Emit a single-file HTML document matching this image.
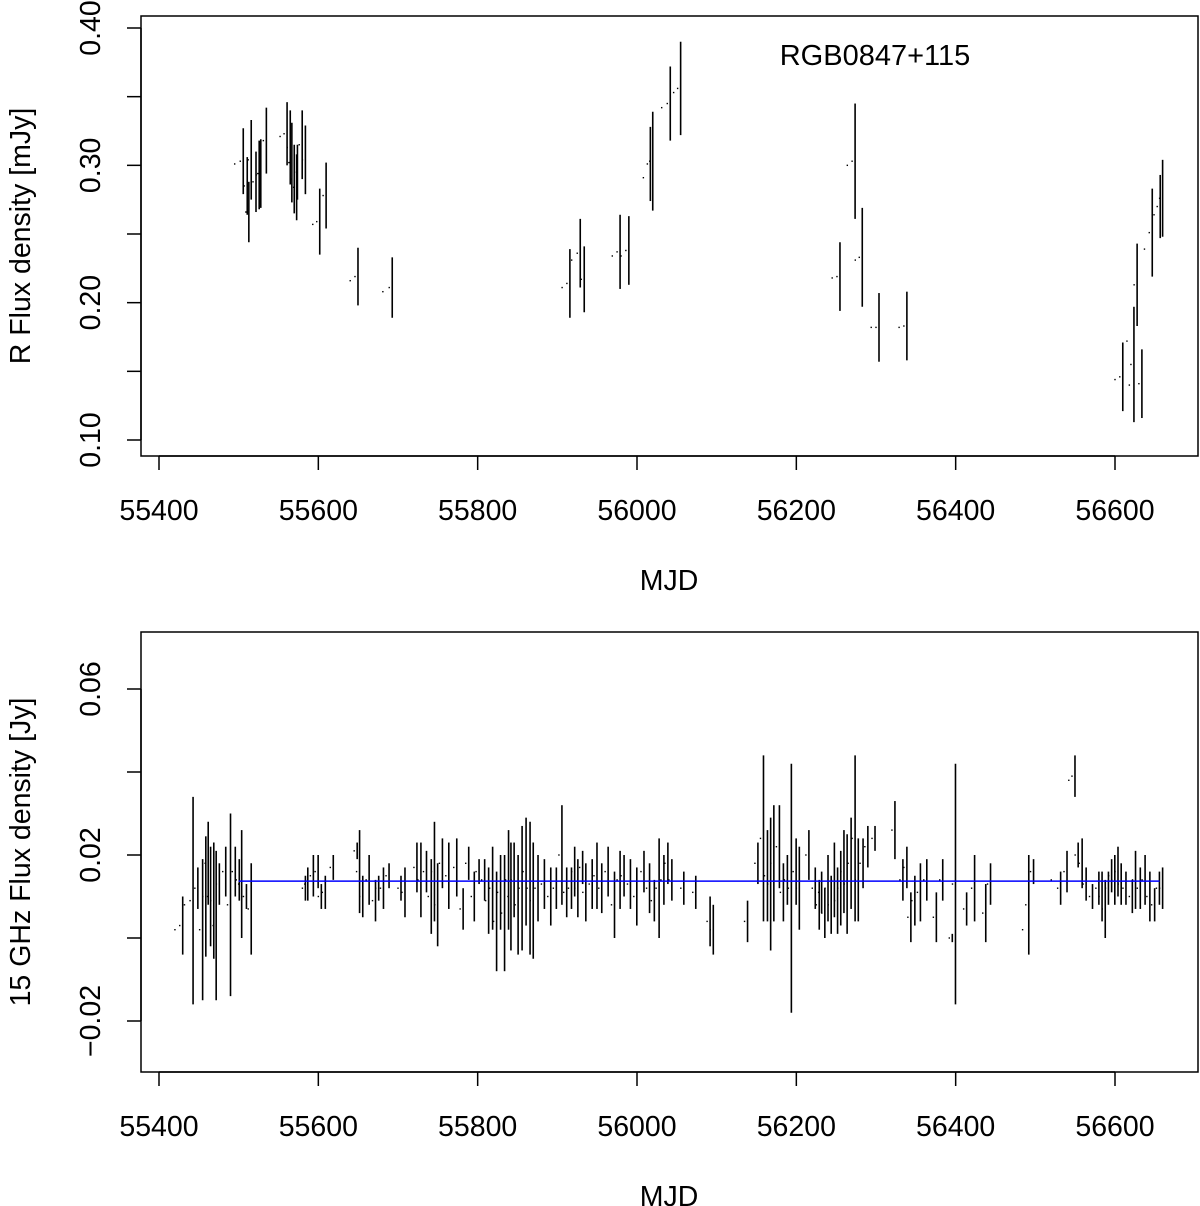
<!DOCTYPE html>
<html><head><meta charset="utf-8"><style>
body{margin:0;background:#fff}
svg{display:block;font-family:"Liberation Sans",Arial,sans-serif}
</style></head><body>
<svg id="chart" width="1200" height="1206" viewBox="0 0 1200 1206" xmlns="http://www.w3.org/2000/svg"></svg>
<script>
// Top panel data (R band)
const mjdR=[55495,55502,55507,55509,55512,55518,55522,55524,55531,55552,55557,55561,55563,55566,55569,55570,55576,55580,55593,55598,55606,55640,55646,55681,55689,55906,55912,55918,55925,55930,55969,55975,55980,55986,56008,56013,56016,56031,56038,56046,56051,56245,56251,56264,56270,56274,56279,56294,56300,56329,56335,56600,56606,56615,56618,56620,56624,56630,56637,56643,56649,56653,56656];
const fluxR=[0.301,0.303,0.285,0.266,0.304,0.288,0.293,0.294,0.318,0.321,0.323,0.313,0.302,0.290,0.284,0.295,0.315,0.304,0.257,0.259,0.278,0.216,0.219,0.208,0.211,0.211,0.214,0.231,0.236,0.217,0.234,0.237,0.234,0.238,0.291,0.301,0.303,0.342,0.345,0.353,0.356,0.218,0.219,0.300,0.303,0.231,0.233,0.182,0.182,0.182,0.183,0.144,0.146,0.172,0.140,0.155,0.213,0.141,0.239,0.251,0.264,0.270,0.276];
const errR=[0,0.024,0.021,0.022,0.029,0.022,0.025,0.025,0.024,0,0.023,0.027,0.029,0.025,0.024,0.020,0.025,0.025,0,0.024,0.024,0,0.021,0,0.022,0,0.025,0,0.025,0.024,0,0.027,0,0.025,0,0.027,0.036,0,0.027,0,0.034,0,0.025,0,0.042,0,0.036,0,0.025,0,0.025,0,0.025,0,0,0.042,0.030,0.025,0,0.032,0,0.023,0.028];
// Bottom panel data (15 GHz)
const mjdG=[55420,55426,55432,55439,55445,55451,55455,55458,55461,55465,55468,55472,55480,55486,55492,55497,55500,55506,55512,55580,55583,55590,55596,55600,55605,55615,55645,55648,55652,55660,55668,55672,55678,55685,55700,55705,55720,55725,55732,55738,55742,55746,55752,55760,55770,55778,55785,55792,55798,55805,55810,55815,55820,55825,55830,55835,55838,55842,55847,55852,55857,55862,55866,55872,55880,55888,55895,55902,55908,55914,55918,55922,55928,55932,55940,55946,55952,55960,55968,55975,55980,55988,55996,56005,56012,56018,56024,56030,56035,56040,56055,56070,56088,56092,56135,56148,56155,56160,56164,56168,56175,56180,56185,56190,56196,56200,56212,56220,56225,56228,56232,56236,56240,56244,56248,56252,56256,56260,56265,56270,56274,56280,56286,56295,56320,56330,56335,56340,56345,56352,56360,56372,56380,56392,56396,56410,56420,56434,56440,56484,56488,56494,56520,56528,56536,56542,56546,56550,56555,56560,56568,56576,56580,56584,56588,56592,56596,56600,56604,56610,56618,56622,56628,56634,56640,56646,56652,56656];
const fluxG=[0.002,0.003,0.008,0.009,0.012,0.002,0.010,0.018,0.010,0.009,0.003,0.013,0.016,0.008,0.016,0.014,0.013,0.010,0.007,0.012,0.013,0.015,0.016,0.010,0.011,0.017,0.021,0.016,0.010,0.014,0.009,0.012,0.012,0.015,0.012,0.011,0.017,0.014,0.016,0.010,0.016,0.008,0.018,0.015,0.017,0.007,0.018,0.010,0.016,0.014,0.009,0.012,0.004,0.011,0.006,0.014,0.010,0.014,0.008,0.012,0.016,0.012,0.009,0.012,0.013,0.010,0.012,0.020,0.011,0.012,0.016,0.012,0.017,0.011,0.013,0.015,0.012,0.016,0.008,0.014,0.015,0.013,0.010,0.016,0.012,0.009,0.012,0.014,0.018,0.014,0.012,0.011,0.004,0.002,0.004,0.018,0.024,0.015,0.013,0.018,0.022,0.011,0.014,0.012,0.016,0.012,0.020,0.012,0.008,0.011,0.006,0.012,0.008,0.014,0.009,0.012,0.016,0.013,0.018,0.024,0.014,0.018,0.022,0.024,0.026,0.014,0.017,0.005,0.009,0.011,0.014,0.005,0.014,0.000,0.013,0.007,0.012,0.006,0.013,0.002,0.008,0.016,0.014,0.012,0.016,0.038,0.039,0.020,0.018,0.013,0.010,0.012,0.010,0.007,0.012,0.015,0.014,0.016,0.013,0.012,0.010,0.014,0.012,0.014,0.010,0.008,0.012,0.012];
const errG=[0,0.007,0,0.025,0.005,0.017,0.0145,0.010,0.012,0.014,0.018,0.005,0.006,0.022,0.006,0.005,0.013,0.003,0.011,0.003,0.004,0.005,0.004,0.003,0.004,0.003,0.002,0.010,0.005,0.006,0.005,0.003,0.005,0.003,0.003,0.006,0.006,0.009,0.005,0.009,0.012,0.010,0.006,0.008,0.007,0.005,0.004,0.006,0.003,0.005,0.008,0.010,0.012,0.009,0.014,0.012,0.013,0.009,0.012,0.015,0.013,0.016,0.014,0.008,0.006,0.007,0.005,0.012,0.006,0.005,0.006,0.007,0.004,0.007,0.006,0.008,0.006,0.006,0.008,0.007,0.005,0.006,0.007,0.005,0.006,0.005,0.012,0.006,0.005,0.005,0.004,0.004,0.006,0.006,0.005,0.005,0.020,0.011,0.016,0.014,0.010,0.007,0.006,0.030,0.008,0.010,0.006,0.005,0.006,0.005,0.006,0.008,0.007,0.009,0.008,0.009,0.010,0.012,0.011,0.020,0.010,0.006,0.005,0.003,0.007,0.005,0.005,0.006,0.006,0.007,0.005,0.006,0.005,0.001,0.029,0.004,0.008,0.007,0.005,0,0.012,0.003,0,0.004,0.005,0,0.005,0.003,0.006,0.004,0.003,0.004,0.006,0.007,0.004,0.004,0.006,0.006,0.005,0.004,0.004,0.007,0.005,0.006,0.006,0.004,0.004,0.005];
const meanG=0.0137;
const xTicks=[55400,55600,55800,56000,56200,56400,56600];
const yTicksR=[0.10,0.15,0.20,0.25,0.30,0.35,0.40];
const yLabelsR=["0.10","","0.20","","0.30","","0.40"];
const yTicksG=[-0.02,0,0.02,0.04,0.06];
const yLabelsG=["\u22120.02","","0.02","","0.06"];

const NS="http://www.w3.org/2000/svg";
const svg=document.getElementById('chart');
function mk(tag,attrs,parent){const e=document.createElementNS(NS,tag);for(const k in attrs)e.setAttribute(k,attrs[k]);(parent||svg).appendChild(e);return e;}
const xScale=v=>159+(v-55400)*(956/1200);
const yR=v=>440-(v-0.10)*(412/0.30);
const yG=v=>938-v*(83/0.02);
const FS=28.5;

function panel(top,yScale,yt,yl,ytitle,name){
  const g=mk('g',{});
  
  
  const box=mk('rect',{x:141,y:top,width:1057,height:440,fill:'none',stroke:'#000','stroke-width':1.5},g);
  
  
  const bot=top+440;
  mk('line',{x1:xScale(xTicks[0]),x2:xScale(xTicks[xTicks.length-1]),y1:bot,y2:bot,stroke:'#000','stroke-width':1.5},g);
  xTicks.forEach(t=>{
    mk('line',{x1:xScale(t),x2:xScale(t),y1:bot,y2:bot+14,stroke:'#000','stroke-width':1.5},g);
    const tx=mk('text',{x:xScale(t),y:bot+64,'text-anchor':'middle','font-size':FS},g);
    tx.textContent=t;
    
    
  });
  const xt=mk('text',{x:669,y:bot+134,'text-anchor':'middle','font-size':FS},g);
  xt.textContent='MJD';
  
  
  mk('line',{x1:141,x2:141,y1:yScale(yt[0]),y2:yScale(yt[yt.length-1]),stroke:'#000','stroke-width':1.5},g);
  yt.forEach((t,i)=>{
    const y=yScale(t);
    mk('line',{x1:127,x2:141,y1:y,y2:y,stroke:'#000','stroke-width':1.5},g);
    if(yl[i]){
      const tx=mk('text',{x:0,y:0,'text-anchor':'middle','font-size':FS,transform:`translate(100,${y}) rotate(-90)`},g);
      tx.textContent=yl[i];
      
      
    }
  });
  const yti=mk('text',{x:0,y:0,'text-anchor':'middle','font-size':FS,transform:`translate(30,${top+220}) rotate(-90)`},g);
  yti.textContent=ytitle;
  
  
  return g;
}
const gR=panel(16,yR,yTicksR,yLabelsR,'R Flux density [mJy]','r-band-panel');
const gG=panel(632,yG,yTicksG,yLabelsG,'15 GHz Flux density [Jy]','radio-panel');

const title=mk('text',{x:875,y:65,'text-anchor':'middle','font-size':29},gR);
title.textContent='RGB0847+115';



function series(g,mj,fl,er,yScale,name){
  mj.forEach((m,i)=>{
    const x=xScale(m);
    if(er[i]>0){
      const l=mk('line',{x1:x+3,x2:x+3,y1:yScale(fl[i]-er[i]),y2:yScale(fl[i]+er[i]),stroke:'#000','stroke-width':1.6},g);
      
      
    }
    const d=mk('rect',{x:x-0.7,y:yScale(fl[i])-0.7,width:1.4,height:1.4,fill:'#000'},g);
    
    
  });
}
series(gR,mjdR,fluxR,errR,yR,'r-flux');
series(gG,mjdG,fluxG,errG,yG,'radio-flux');
const ml=mk('line',{x1:xScale(55500),x2:xScale(56656),y1:yG(meanG),y2:yG(meanG),stroke:'#0000ff','stroke-width':1.5},gG);


</script>
</body></html>
